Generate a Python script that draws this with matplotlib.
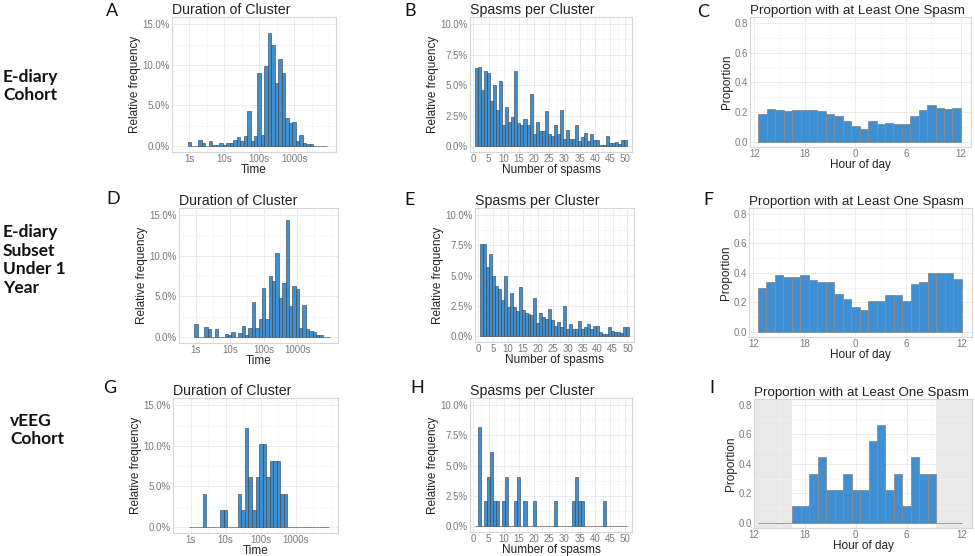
#!/usr/bin/env python3
# Spasm clusters: duration, spasms per cluster and hour-of-day proportion
# for three cohorts (3x3 panel figure)

import numpy as np
import matplotlib
matplotlib.use("Agg")
import matplotlib.pyplot as plt
from matplotlib.ticker import FuncFormatter

# ---------- Data ----------
# duration histograms: bins of 0.1 in log10(seconds), bin k centred at 10**(k/10) s
dur_bins = np.arange(40)
dur_A = [0.5, 0, 0, 0.7, 0.3, 0, 0.6, 0.1, 0.1, 0.3,
         0.1, 0.4, 0.3, 0.7, 1.1, 0.6, 1.2, 4.3, 0.6, 1.2,
         9.0, 1.3, 9.8, 13.9, 12.4, 7.8, 10.7, 9.0, 3.4, 2.8,
         3.0, 0.6, 1.3, 0.4, 0.2, 0.2, 0.05, 0.05, 0.05, 0.0]
dur_D = [1.6, 0, 0, 1.2, 1.0, 0, 1.0, 0.05, 0.05, 0.37,
         0.2, 0.55, 0.05, 0.45, 1.35, 0.25, 1.1, 4.25, 1.1, 2.2,
         6.0, 2.2, 7.5, 6.9, 10.3, 4.75, 6.7, 14.4, 3.85, 6.3,
         5.9, 1.05, 3.9, 1.0, 0.75, 0.55, 0.25, 0.2, 0.05, 0.0]
dur_G = [0, 0, 0, 0, 4.08, 0, 0, 0, 0, 2.04,
         2.04, 0, 0, 0, 4.08, 2.04, 12.24, 6.12, 2.04, 6.12,
         10.2, 10.2, 6.12, 8.16, 8.16, 8.16, 4.08, 4.08, 0, 0,
         0, 0, 0, 0, 0, 0, 0, 0, 0, 0]
dur_ticks = [0, 1, 2, 3]
dur_labels = ["1s", "10s", "100s", "1000s"]

# spasms per cluster, 1..50 (%)
n_spasms = np.arange(1, 51)
spasm_B = [6.4, 6.5, 4.6, 6.2, 6.0, 3.7, 5.05, 2.95, 5.3, 1.7,
           3.2, 1.95, 2.4, 6.15, 1.85, 1.75, 2.25, 1.7, 4.3, 1.0,
           1.95, 1.2, 1.2, 2.85, 0.95, 0.85, 1.7, 0.95, 2.95, 0.6,
           1.35, 0.55, 0.55, 1.75, 0.4, 0.75, 1.05, 0.4, 1.0, 0.45,
           0.45, 0.1, 0.1, 0.85, 0.2, 0.2, 0.3, 0.15, 0.45, 0.45]
spasm_E = [7.6, 7.6, 5.75, 6.8, 5.0, 4.1, 3.85, 3.0, 4.95, 2.4,
           3.6, 2.4, 2.1, 4.05, 2.15, 1.9, 1.8, 1.7, 3.15, 1.1,
           1.9, 1.55, 1.4, 2.25, 1.3, 0.85, 1.15, 0.75, 2.5, 0.6,
           0.95, 0.55, 0.55, 1.2, 0.55, 0.75, 0.95, 0.55, 0.8, 0.8,
           0.35, 0.2, 0.2, 0.75, 0.45, 0.35, 0.35, 0.25, 0.75, 0.75]
spasm_H = [0, 8.16, 0, 2.04, 4.08, 6.12, 2.04, 2.04, 0, 2.04,
           4.08, 0, 0, 2.04, 4.08, 0, 2.04, 0, 0, 2.04,
           0, 0, 0, 0, 0, 0, 2.04, 0, 0, 0,
           0, 0, 2.04, 4.08, 2.04, 2.04, 0, 0, 0, 0,
           0, 0, 2.04, 0, 0, 0, 0, 0, 0, 0]
spasm_ticks = list(range(0, 51, 5))

# proportion with at least one spasm, hourly from 12:00
hours = np.arange(24)
prop_C = [0.186, 0.22, 0.215, 0.21, 0.217, 0.215, 0.213, 0.206, 0.188, 0.175,
          0.143, 0.103, 0.083, 0.143, 0.117, 0.128, 0.119, 0.123, 0.175, 0.215,
          0.247, 0.226, 0.224, 0.226]
prop_F = [0.296, 0.34, 0.386, 0.372, 0.372, 0.386, 0.352, 0.339, 0.339, 0.258,
          0.224, 0.166, 0.15, 0.21, 0.21, 0.247, 0.247, 0.21, 0.327, 0.339,
          0.397, 0.397, 0.397, 0.361]
prop_I = [0, 0, 0, 0, 0.111, 0.111, 0.333, 0.444, 0.222, 0.222,
          0.333, 0.222, 0.222, 0.556, 0.667, 0.222, 0.333, 0.111, 0.444, 0.333,
          0.333, 0, 0, 0]
hour_labels = ["12", "18", "0", "6", "12"]
# hours without vEEG recording (shaded in panel I)
no_record_I = [(None, 4), (21, None)]

row_labels = ["E-diary\nCohort", "E-diary\nSubset\nUnder 1\nYear", "vEEG\nCohort"]

# ---------- Style ----------
W, H = 975, 556
BLUE = "#3f8fd3"
GRID = "#ececec"
BORDER = "#d6d6d6"
TICKC = "#7a7a7a"

plt.rcParams["font.family"] = ["Liberation Sans", "DejaVu Sans"]

fig = plt.figure(figsize=(W / 100, H / 100), dpi=100)


def add_ax(l, r, t, b):
    # pixel box -> figure fraction
    return fig.add_axes([l / W, 1 - b / H, (r - l) / W, (b - t) / H])


def style(ax, title, xlabel, ylabel, tsize=10.2):
    ax.set_title(title, loc="left", fontsize=tsize, pad=2, color="#222222")
    ax.set_xlabel(xlabel, fontsize=8.5, labelpad=0, color="#222222")
    ax.set_ylabel(ylabel, fontsize=8.5, labelpad=1, color="#222222")
    for s in ax.spines.values():
        s.set_color(BORDER)
        s.set_linewidth(0.8)
    ax.tick_params(axis="both", which="both", length=0, labelsize=7,
                   labelcolor=TICKC, pad=1.5)
    ax.grid(True, which="major", color=GRID, linewidth=0.7)
    ax.grid(True, which="minor", color="#f4f4f4", linewidth=0.5)
    ax.set_axisbelow(True)


pct = FuncFormatter(lambda v, p: f"{v:.1f}%")


def duration_panel(ax, vals):
    ax.bar(dur_bins / 10, vals, width=0.1, color=BLUE,
           edgecolor="#3a3a3a", linewidth=0.4)
    ax.set_xlim(-0.23, 4.2)
    ax.set_ylim(-0.75, 15.9)
    ax.set_xticks(dur_ticks)
    ax.set_xticklabels(dur_labels)
    ax.set_xticks(np.arange(-0.5, 4.1, 0.5), minor=True)
    ax.set_yticks([0, 5, 10, 15])
    ax.set_yticks([2.5, 7.5, 12.5], minor=True)
    ax.yaxis.set_major_formatter(pct)
    style(ax, "Duration of Cluster", "Time", "Relative frequency")


def spasm_panel(ax, vals):
    ax.bar(n_spasms, vals, width=1.0, color=BLUE,
           edgecolor="#3a3a3a", linewidth=0.4)
    ax.set_xlim(-1.1, 52.2)
    ax.set_ylim(-0.5, 10.6)
    ax.set_xticks(spasm_ticks)
    ax.set_xticks(np.arange(2.5, 50, 5), minor=True)
    ax.set_yticks([0, 2.5, 5, 7.5, 10])
    ax.set_yticks([1.25, 3.75, 6.25, 8.75], minor=True)
    ax.yaxis.set_major_formatter(pct)
    style(ax, "Spasms per Cluster", "Number of spasms", "Relative frequency")


def hour_panel(ax, vals, left=-1.0, shade=None):
    ax.set_xlim(left, 25.2)
    if shade:
        for a, b in shade:
            a = left if a is None else a
            b = 25.2 if b is None else b
            ax.axvspan(a, b, color="#e9e9e9", lw=0, zorder=0.5)
    ax.bar(hours + 0.5, vals, width=1.0, color=BLUE,
           edgecolor="#8a8a8a", linewidth=0.6, zorder=2)
    ax.set_ylim(-0.035, 0.84)
    ax.set_xticks([-0.5, 5.5, 11.5, 17.5, 24.0])
    ax.set_xticklabels(hour_labels)
    ax.set_xticks([2.5, 8.5, 14.5, 20.5], minor=True)
    ax.set_yticks([0, 0.2, 0.4, 0.6, 0.8])
    ax.set_yticks([0.1, 0.3, 0.5, 0.7], minor=True)
    ax.yaxis.set_major_formatter(FuncFormatter(lambda v, p: f"{v:.1f}"))
    style(ax, "Proportion with at Least One Spasm", "Hour of day", "Proportion",
          tsize=9.6)


# ---------- Panels ----------
axA = add_ax(172, 336, 17, 152)
axB = add_ax(470, 632, 17, 152)
axC = add_ax(750, 971, 17, 147)
axD = add_ax(179, 338, 208, 343)
axE = add_ax(475, 634, 208, 342)
axF = add_ax(749, 972, 208, 337)
axG = add_ax(173, 338, 398, 533)
axH = add_ax(470, 632, 398, 532)
axI = add_ax(754, 972, 399, 528)

duration_panel(axA, dur_A)
duration_panel(axD, dur_D)
duration_panel(axG, dur_G)
spasm_panel(axB, spasm_B)
spasm_panel(axE, spasm_E)
spasm_panel(axH, spasm_H)
hour_panel(axC, prop_C)
hour_panel(axF, prop_F)
hour_panel(axI, prop_I, left=-0.4, shade=no_record_I)

# panel letters
letters = [("A", 112, 11), ("B", 410, 11), ("C", 703, 12),
           ("D", 113, 199), ("E", 410, 200), ("F", 708, 200),
           ("G", 110, 388), ("H", 417, 388), ("I", 712, 388)]
for s, x, y in letters:
    fig.text(x / W, 1 - y / H, s, fontsize=13, ha="center", va="center",
             family=["Lato", "DejaVu Sans"], color="#111111")

# cohort row labels
for txt, x, y in zip(row_labels, [3, 3, 10], [86, 260, 430]):
    fig.text(x / W, 1 - y / H, txt, fontsize=12.5, fontweight="bold",
             ha="left", va="center", linespacing=1.2,
             family=["Lato", "DejaVu Sans"], color="#111111")

fig.savefig("out.png", dpi=100)
